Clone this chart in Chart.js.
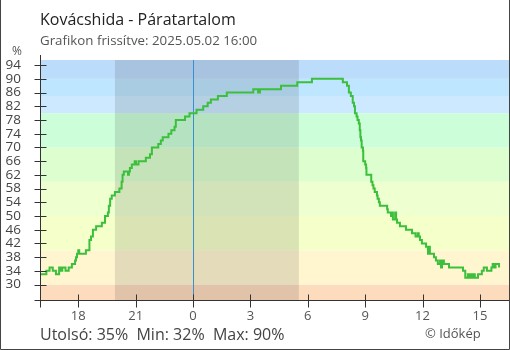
<!DOCTYPE html>
<html>
<head>
<meta charset="utf-8">
<script src="https://cdn.jsdelivr.net/npm/chart.js@4.4.1/dist/chart.umd.min.js"></script>
<style>
	body { margin: 0; background: #fff; }
	canvas { display: block; }
</style>
</head>
<body>
<canvas id="chart" width="510" height="350"></canvas>
<script>
// mérési időpontok (16:00-tól másnap 16:00-ig) és páratartalom (%)
const times = [
	"16:00", "16:10", "16:20", "16:30", "16:40", "16:50", "17:00", "17:05", "17:10", "17:20",
	"17:30", "17:40", "17:50", "17:53", "17:56", "18:00", "18:03", "18:24", "18:35", "18:40",
	"18:46", "18:56", "19:14", "19:24", "19:33", "19:36", "19:40", "19:45", "19:55", "20:09",
	"20:16", "20:19", "20:23", "20:36", "20:39", "20:42", "20:48", "20:57", "21:01", "21:09",
	"21:32", "21:45", "21:51", "22:11", "22:19", "22:25", "22:43", "22:52", "23:02", "23:06",
	"23:35", "23:49", "00:11", "00:32", "00:46", "00:56", "01:18", "01:46", "03:09", "03:24",
	"03:30", "04:36", "05:27", "06:13", "07:50", "08:03", "08:09", "08:15", "08:21", "08:25",
	"08:28", "08:33", "08:36", "08:40", "08:43", "08:45", "08:47", "08:49", "08:53", "08:54",
	"09:00", "09:03", "09:04", "09:19", "09:23", "09:26", "09:30", "09:37", "09:39", "09:43",
	"09:46", "10:09", "10:11", "10:21", "10:24", "10:27", "10:34", "10:37", "10:40", "10:49",
	"11:08", "11:27", "11:38", "11:45", "11:48", "11:52", "11:58", "12:11", "12:17", "12:20",
	"12:23", "12:36", "12:42", "12:48", "12:55", "12:58", "13:01", "13:07", "13:23", "14:07",
	"14:14", "14:22", "14:26", "14:32", "14:35", "14:41", "14:44", "14:54", "15:06", "15:12",
	"15:22", "15:36", "15:40", "15:46", "15:49", "16:00",
];
const humidity = [
	33, 33, 34, 35, 34, 33, 35, 34, 35, 34,
	35, 36, 37, 38, 39, 40, 39, 40, 43, 44,
	46, 47, 48, 50, 51, 53, 55, 56, 57, 58,
	60, 62, 63, 62, 63, 64, 65, 66, 65, 66,
	67, 68, 70, 71, 72, 73, 74, 75, 76, 78,
	79, 80, 81, 82, 83, 84, 85, 86, 87, 86,
	87, 88, 89, 90, 89, 88, 86, 85, 83, 82,
	80, 79, 78, 77, 75, 73, 72, 70, 69, 66,
	65, 64, 62, 60, 59, 58, 57, 56, 55, 54,
	53, 52, 51, 50, 51, 49, 51, 49, 48, 47,
	46, 45, 44, 45, 44, 43, 42, 41, 39, 41,
	39, 38, 37, 36, 37, 35, 37, 36, 35, 34,
	32, 33, 32, 33, 32, 33, 32, 33, 34, 35,
	34, 35, 36, 35, 36, 35,
];
const yTicks = [30, 34, 38, 42, 46, 50, 54, 58, 62, 66, 70, 74, 78, 82, 86, 90, 94];
const xTicks = [18, 21, 24, 27, 30, 33, 36, 39];
// sávhatárok (%)
const bandLimits = [0, 30, 40, 50, 60, 70, 80, 85, 90, 100];
const night = ["19:55", "05:32"];

const title = "Kovácshida - Páratartalom";
const subtitle = "Grafikon frissítve: 2025.05.02 16:00";
const summary = "Utolsó: 35%  Min: 32%  Max: 90%";
const credit = "© Időkép";

// stílusok
const bandColors = ["#fddcbe", "#fff6d0", "#f4ffca", "#eeffd0", "#ddffcf", "#ccffd9", "#cce9ff", "#bee6ff", "#bcdcfb"];
const font = "'Open Sans', 'Noto Sans', sans-serif";

function toHours(list, start) {
	let prev = start;
	return list.map((s) => {
		const [h, m] = s.split(":").map(Number);
		let v = h + m / 60;
		while (v < prev) v += 24;
		prev = v;
		return v;
	});
}
const hours = toHours(times, 16);
const nightHours = toHours(night, 16);
const points = hours.map((x, i) => ({x: x, y: humidity[i]}));

const backgroundPlugin = {
	id: "background",
	beforeDatasetsDraw(chart) {
		const {ctx, chartArea, scales} = chart;
		const y = scales.y;
		const x = scales.x;
		ctx.save();
		ctx.beginPath();
		ctx.rect(chartArea.left, chartArea.top, chartArea.right - chartArea.left, chartArea.bottom - chartArea.top);
		ctx.clip();
		// páratartalom sávok
		for (let i = 0; i < bandColors.length; i++) {
			const top = y.getPixelForValue(bandLimits[i + 1]);
			const bottom = y.getPixelForValue(bandLimits[i]);
			ctx.fillStyle = bandColors[i];
			ctx.fillRect(chartArea.left, top, chartArea.right - chartArea.left, bottom - top);
		}
		// éjszaka
		const n0 = x.getPixelForValue(nightHours[0]);
		const n1 = x.getPixelForValue(nightHours[1]);
		ctx.fillStyle = "rgba(0, 0, 0, 0.11)";
		ctx.fillRect(n0, chartArea.top, n1 - n0, chartArea.bottom - chartArea.top);
		ctx.restore();
		// éjfél
		const mx = Math.round(x.getPixelForValue(24)) + 0.5;
		ctx.save();
		ctx.strokeStyle = "#3a8fd0";
		ctx.lineWidth = 1;
		ctx.beginPath();
		ctx.moveTo(mx, chartArea.top);
		ctx.lineTo(mx, chartArea.bottom + 6);
		ctx.stroke();
		ctx.restore();
	},
};

const axesPlugin = {
	id: "axes",
	afterDatasetsDraw(chart) {
		const {ctx, chartArea, scales} = chart;
		const left = Math.round(chartArea.left) + 0.5;
		const bottom = Math.round(chartArea.bottom) + 0.5;
		ctx.save();
		ctx.strokeStyle = "#333";
		ctx.lineWidth = 1;
		ctx.beginPath();
		ctx.moveTo(left, chartArea.top - 5);
		ctx.lineTo(left, bottom + 7);
		ctx.moveTo(left - 6, bottom);
		ctx.lineTo(chartArea.right, bottom);
		scales.y.ticks.forEach((t) => {
			const py = Math.round(scales.y.getPixelForValue(t.value)) + 0.5;
			ctx.moveTo(left - 6, py);
			ctx.lineTo(left + 6, py);
		});
		scales.x.ticks.forEach((t) => {
			const px = Math.round(scales.x.getPixelForValue(t.value)) + 0.5;
			ctx.moveTo(px, bottom - 6);
			ctx.lineTo(px, bottom + 7);
		});
		ctx.stroke();
		ctx.restore();
	},
};

const textPlugin = {
	id: "texts",
	afterDraw(chart) {
		const ctx = chart.ctx;
		const w = chart.width;
		const h = chart.height;
		ctx.save();
		ctx.textBaseline = "alphabetic";
		ctx.fillStyle = "#222";
		ctx.font = "16px " + font;
		ctx.fillText(title, 40, 25);
		ctx.fillStyle = "#555";
		ctx.font = "13.3px " + font;
		ctx.fillText(subtitle, 40, 45);
		ctx.font = "12px " + font;
		ctx.fillText("%", 12, 55);
		ctx.fillStyle = "#444";
		ctx.font = "16px " + font;
		ctx.fillText(summary, 40, 340);
		ctx.fillStyle = "#555";
		ctx.font = "13px " + font;
		ctx.fillText(credit, 425, 338);
		// keret
		ctx.strokeStyle = "#444";
		ctx.lineWidth = 1;
		ctx.beginPath();
		ctx.moveTo(0.5, 0);
		ctx.lineTo(0.5, h - 0.5);
		ctx.lineTo(w - 0.5, h - 0.5);
		ctx.lineTo(w - 0.5, 0);
		ctx.stroke();
		ctx.restore();
	},
};

const canvas = document.getElementById("chart").getContext("2d");
new Chart(canvas, {
	type: "line",
	data: {
		datasets: [
			{
				data: points,
				stepped: true,
				borderColor: "#3cbf3c",
				borderWidth: 2,
				pointRadius: 0,
				fill: false,
			},
		],
	},
	options: {
		responsive: false,
		animation: false,
		devicePixelRatio: 1,
		layout: {padding: {top: 60, left: 0, right: 1, bottom: 0}},
		plugins: {legend: {display: false}, tooltip: {enabled: false}},
		scales: {
			x: {
				type: "linear",
				min: 16,
				max: 40.52,
				grid: {display: false, drawTicks: false},
				border: {display: false},
				afterBuildTicks: (s) => {
					s.ticks = xTicks.map((v) => ({value: v}));
				},
				afterFit: (s) => {
					s.height = 50;
				},
				ticks: {
					padding: 8,
					color: "#555",
					font: {family: font, size: 13},
					maxRotation: 0,
					autoSkip: false,
					callback: (v) => String(v % 24),
				},
			},
			y: {
				min: 25.5,
				max: 95.5,
				grid: {display: false, drawTicks: false},
				border: {display: false},
				afterBuildTicks: (s) => {
					s.ticks = yTicks.map((v) => ({value: v}));
				},
				afterFit: (s) => {
					s.width = 40;
				},
				ticks: {
					padding: 19,
					color: "#444",
					font: {family: font, size: 13.5},
					autoSkip: false,
				},
			},
		},
	},
	plugins: [backgroundPlugin, axesPlugin, textPlugin],
});
</script>
</body>
</html>
